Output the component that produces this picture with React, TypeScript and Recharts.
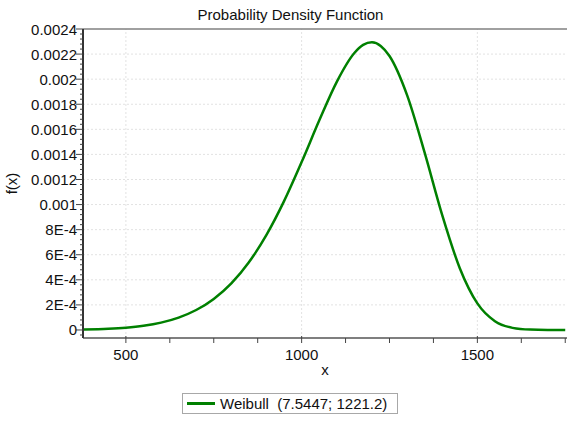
import {
  LineChart,
  Line,
  XAxis,
  YAxis,
  ReferenceLine,
  Label,
} from "recharts";

const FONT = "'Liberation Sans', Arial, sans-serif";
const GREEN = "#008000";

// x values and Weibull density
const X_VALUES = [
  380, 450, 500, 550, 600, 650, 700, 750, 800, 850, 900, 950, 1000, 1050,
  1100, 1150, 1175, 1200, 1225, 1250, 1300, 1350, 1400, 1450, 1500, 1550,
  1600, 1650, 1700, 1750,
];
const F_VALUES = [
  0.000003, 0.000009, 0.0000179, 0.0000333, 0.0000587, 0.0000988, 0.0001594,
  0.0002478, 0.0003721, 0.0005404, 0.0007585, 0.0010274, 0.0013387,
  0.0016695, 0.0019788, 0.0022084, 0.0022729, 0.0022938, 0.0022653,
  0.0021844, 0.0018724, 0.0014137, 0.0009156, 0.0004925, 0.0002119,
  0.0000699, 0.0000168, 0.0000028, 0.0000003, 0,
];

const X_MAJOR = [500, 1000, 1500];
const X_MINOR = [625, 750, 875, 1125, 1250, 1375, 1625, 1750];

const Y_MAJOR = [
  0, 0.0002, 0.0004, 0.0006, 0.0008, 0.001, 0.0012, 0.0014, 0.0016, 0.0018,
  0.002, 0.0022, 0.0024,
];
const Y_LABELS = [
  "0", "2E-4", "4E-4", "6E-4", "8E-4", "0.001", "0.0012", "0.0014", "0.0016",
  "0.0018", "0.002", "0.0022", "0.0024",
];

const data = X_VALUES.map((x, i) => ({ x, f: F_VALUES[i] }));

const yMinor: number[] = [];
for (let i = -1; i <= 60; i++) {
  const v = Math.round(i * 4) / 100000;
  if (!Y_MAJOR.some((m) => Math.abs(m - v) < 1e-9)) yMinor.push(v);
}
const yTicks = [...Y_MAJOR, ...yMinor].sort((a, b) => a - b);
const xTicks = [...X_MAJOR, ...X_MINOR].sort((a, b) => a - b);

function XTick(props: any) {
  const { x, y, payload } = props;
  const major = X_MAJOR.includes(payload.value);
  return (
    <g>
      <line
        x1={x}
        x2={x}
        y1={major ? y - 2 : y}
        y2={y + 5}
        stroke="#444"
        strokeWidth={1}
      />
      {major && (
        <text
          x={x}
          y={y + 16}
          textAnchor="middle"
          dominantBaseline="central"
          fontSize={15}
          fontFamily={FONT}
          fill="#111"
        >
          {payload.value}
        </text>
      )}
    </g>
  );
}

function YTick(props: any) {
  const { x, y, payload } = props;
  const idx = Y_MAJOR.findIndex((m) => Math.abs(m - payload.value) < 1e-9);
  const major = idx >= 0;
  return (
    <g>
      <line
        x1={x - (major ? 7 : 3)}
        x2={x}
        y1={y}
        y2={y}
        stroke="#444"
        strokeWidth={1}
      />
      {major && (
        <text
          x={x - 6}
          y={y}
          textAnchor="end"
          dominantBaseline="central"
          fontSize={15}
          fontFamily={FONT}
          fill="#111"
        >
          {Y_LABELS[idx]}
        </text>
      )}
    </g>
  );
}

export default function App() {
  return (
    <div
      style={{
        position: "absolute",
        left: 0,
        top: 0,
        width: 568,
        height: 421,
        background: "#fff",
        fontFamily: FONT,
      }}
    >
      <div
        style={{
          position: "absolute",
          left: 0,
          width: 581,
          top: 6,
          textAlign: "center",
          fontSize: 15,
          color: "#111",
        }}
      >
        Probability Density Function
      </div>

      <LineChart
        width={568}
        height={421}
        data={data}
        margin={{ top: 29, right: 1, bottom: 0, left: 0 }}
      >
        {X_MAJOR.map((v) => (
          <ReferenceLine
            key={"vx" + v}
            x={v}
            stroke="#e2e2e2"
            strokeDasharray="2 2"
          />
        ))}
        {Y_MAJOR.slice(1, -1).map((v) => (
          <ReferenceLine
            key={"hy" + v}
            y={v}
            stroke="#e2e2e2"
            strokeDasharray="2 2"
          />
        ))}
        <ReferenceLine y={0.0024} stroke="#808080" strokeWidth={1.5} />
        <XAxis
          type="number"
          dataKey="x"
          domain={[378, 1755]}
          ticks={xTicks}
          interval={0}
          allowDataOverflow
          tick={<XTick />}
          tickSize={0}
          tickMargin={0}
          tickLine={false}
          axisLine={{ stroke: "#555", strokeWidth: 1.5 }}
          height={83}
        >
          <Label
            value="x"
            position="insideTop"
            offset={26}
            style={{ fontSize: 15, fontFamily: FONT, fill: "#111" }}
          />
        </XAxis>
        <YAxis
          type="number"
          domain={[-0.000064, 0.0024]}
          ticks={yTicks}
          interval={0}
          allowDataOverflow
          tick={<YTick />}
          tickSize={0}
          tickMargin={0}
          tickLine={false}
          axisLine={{ stroke: "#333", strokeWidth: 2 }}
          width={83}
        >
          <Label
            value="f(x)"
            angle={-90}
            position="insideLeft"
            offset={12}
            style={{
              fontSize: 15,
              fontFamily: FONT,
              fill: "#111",
              textAnchor: "middle",
            }}
          />
        </YAxis>
        <Line
          type="monotone"
          dataKey="f"
          stroke={GREEN}
          strokeWidth={2.5}
          dot={false}
          isAnimationActive={false}
        />
      </LineChart>

      <div
        style={{
          position: "absolute",
          left: 182,
          top: 393,
          width: 214,
          height: 19,
          border: "1px solid #a8a8a8",
          display: "flex",
          alignItems: "center",
          boxSizing: "content-box",
        }}
      >
        <div
          style={{
            marginLeft: 4,
            width: 28,
            height: 2.5,
            background: GREEN,
          }}
        />
        <span
          style={{
            marginLeft: 5,
            fontSize: 15,
            color: "#111",
            whiteSpace: "pre",
          }}
        >
          {"Weibull  (7.5447; 1221.2)"}
        </span>
      </div>
    </div>
  );
}
